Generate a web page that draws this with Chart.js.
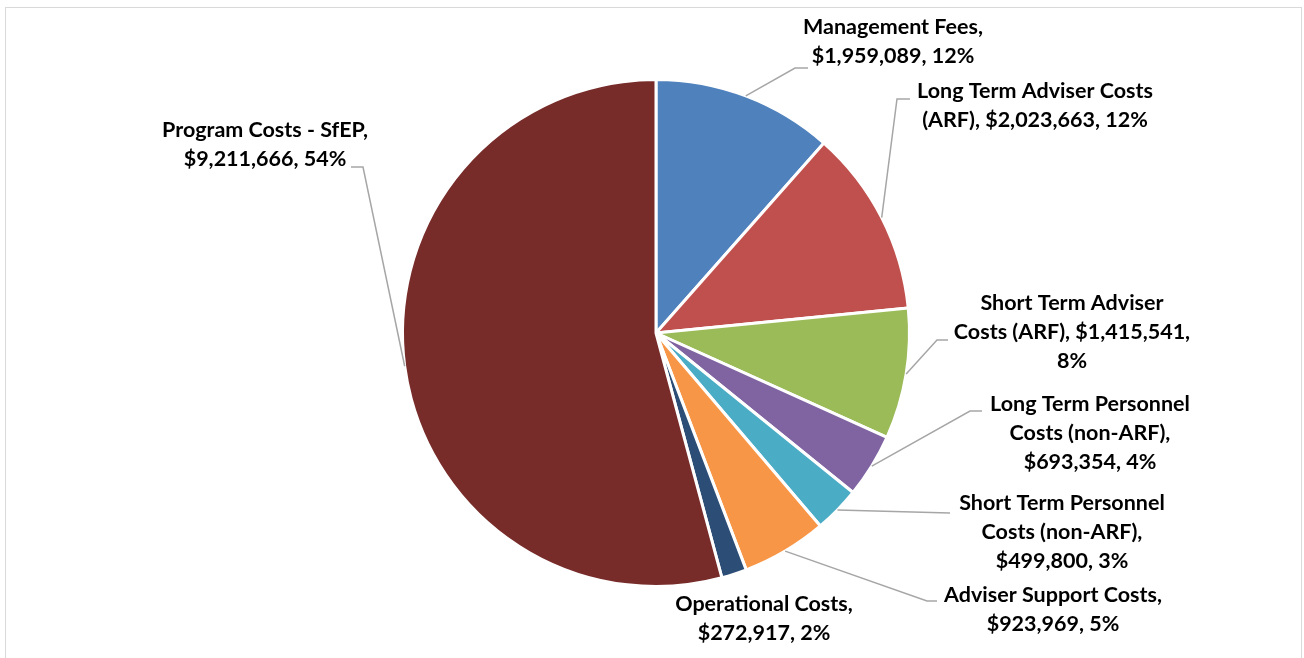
<!DOCTYPE html>
<html>
<head>
<meta charset="utf-8">
<script src="https://cdn.jsdelivr.net/npm/chart.js@4/dist/chart.umd.min.js"></script>
<style>
  html, body { margin: 0; padding: 0; background: #fff; }
  #wrap { position: relative; width: 1304px; height: 658px; }
</style>
</head>
<body>
<div id="wrap"><canvas id="costChart" width="1304" height="658"></canvas></div>
<script>
/* ============================
   COST BREAKDOWN PIE
============================ */

// ======== DATA ========
const categories = [
    "Management Fees",
    "Long Term Adviser Costs (ARF)",
    "Short Term Adviser Costs (ARF)",
    "Long Term Personnel Costs (non-ARF)",
    "Short Term Personnel Costs (non-ARF)",
    "Adviser Support Costs",
    "Operational Costs",
    "Program Costs - SfEP",
];
const costValues = [1959089, 2023663, 1415541, 693354, 499800, 923969, 272917, 9211666];
const sliceColors = ["#4F81BD", "#C0504D", "#9BBB59", "#8064A2", "#4BACC6", "#F79646", "#2C4D75", "#772C2A"];

// words per wrapped line for each data label
const wrapCounts = [[2, 2], [4, 3], [3, 3, 1], [3, 2, 2], [3, 2, 2], [3, 2], [2, 2], [4, 2]];

// ======== LABEL LAYOUT (text block centre, leader elbow + end) ========
const labelLayout = [
    { x: 893, y: 42, elbow: [795, 68], end: 808 },
    { x: 1035, y: 106, elbow: [897, 99], end: 910 },
    { x: 1072, y: 332, elbow: [937, 340], end: 948 },
    { x: 1090, y: 433, elbow: [970, 411], end: 982 },
    { x: 1062, y: 532, elbow: [950, 513], end: 950 },
    { x: 1053, y: 610, elbow: [927, 601], end: 937 },
    { x: 764, y: 619, elbow: null, end: null },
    { x: 265, y: 145, elbow: [363, 167], end: 351 },
];

const total = costValues.reduce((a, b) => a + b, 0);
const money = (v) => "$" + v.toLocaleString("en-US");

function labelLines(i) {
    const pct = Math.round((costValues[i] / total) * 100);
    const words = (categories[i] + ", " + money(costValues[i]) + ", " + pct + "%").split(" ");
    const lines = [];
    let k = 0;
    wrapCounts[i].forEach((n) => {
        lines.push(words.slice(k, k + n).join(" "));
        k += n;
    });
    return lines;
}

// ======== FRAME + LABELS PLUGIN ========
const framePlugin = {
    id: "frame",
    beforeDraw(chart) {
        const ctx = chart.ctx;
        ctx.save();
        ctx.strokeStyle = "#D9D9D9";
        ctx.lineWidth = 1;
        ctx.strokeRect(5.5, 7.5, 1296, 700);
        ctx.restore();
    },
};

const labelPlugin = {
    id: "pieLabels",
    afterDatasetsDraw(chart) {
        const ctx = chart.ctx;
        const arcs = chart.getDatasetMeta(0).data;
        ctx.save();
        // leader lines
        ctx.strokeStyle = "#A6A6A6";
        ctx.lineWidth = 1.5;
        arcs.forEach((arc, i) => {
            const lay = labelLayout[i];
            if (!lay.elbow) return;
            const mid = (arc.startAngle + arc.endAngle) / 2;
            const sx = arc.x + Math.cos(mid) * arc.outerRadius;
            const sy = arc.y + Math.sin(mid) * arc.outerRadius;
            ctx.beginPath();
            ctx.moveTo(sx, sy);
            ctx.lineTo(lay.elbow[0], lay.elbow[1]);
            ctx.lineTo(lay.end, lay.elbow[1]);
            ctx.stroke();
        });
        // text
        ctx.fillStyle = "#000";
        ctx.font = "bold 21.5px Lato, 'Open Sans', sans-serif";
        ctx.textAlign = "center";
        ctx.textBaseline = "middle";
        const lh = 29;
        arcs.forEach((arc, i) => {
            const lay = labelLayout[i];
            const lines = labelLines(i);
            const y0 = lay.y - ((lines.length - 1) * lh) / 2;
            lines.forEach((t, j) => ctx.fillText(t, lay.x, y0 + j * lh));
        });
        ctx.restore();
    },
};

new Chart(document.getElementById("costChart"), {
    type: "pie",
    data: {
        labels: categories,
        datasets: [
            {
                data: costValues,
                backgroundColor: sliceColors,
                borderColor: "#fff",
                borderWidth: 3,
            },
        ],
    },
    options: {
        responsive: false,
        animation: false,
        layout: { padding: { top: 78, bottom: 70, left: 8, right: 0 } },
        plugins: {
            legend: { display: false },
            tooltip: { enabled: false },
        },
    },
    plugins: [framePlugin, labelPlugin],
});
</script>
</body>
</html>
